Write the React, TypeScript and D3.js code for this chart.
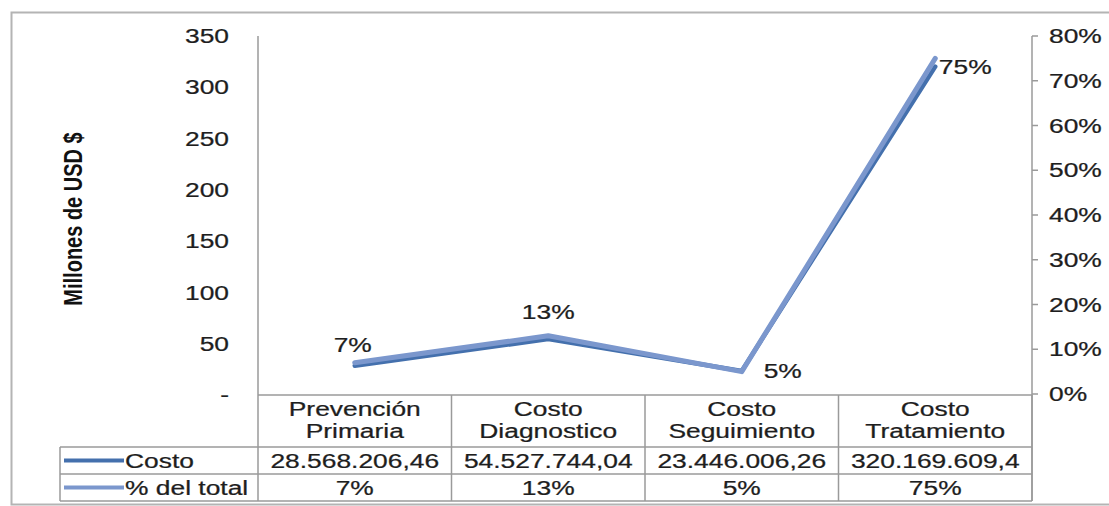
import React from "react";
import * as d3 from "d3";

const categories: string[][] = [
  ["Prevención", "Primaria"],
  ["Costo", "Diagnostico"],
  ["Costo", "Seguimiento"],
  ["Costo", "Tratamiento"],
];
const costo: number[] = [28568206.46, 54527744.04, 23446006.26, 320169609.4];
const pctTotal: number[] = [7, 13, 5, 75];
const leftTicks: number[] = [0, 50, 100, 150, 200, 250, 300, 350];
const rightTicks: number[] = [0, 10, 20, 30, 40, 50, 60, 70, 80];
const seriesNames: string[] = ["Costo", "% del total"];

const W = 1109;
const H = 506;
const FONT = "Liberation Sans, Arial, sans-serif";
const DARK = "#4470ad";
const LIGHT = "#7b97cd";
const GRID = "#9a9a9a";
const SX = 1.32;
const FS = 20;
const TXT = "#1e1e1e";

function fmtEs(v: number): string {
  const [i, d] = String(v).split(".");
  const int = i.replace(/\B(?=(\d{3})+(?!\d))/g, ".");
  return d ? `${int},${d}` : int;
}

function T({
  x,
  y,
  anchor = "start",
  children,
  dy = "0.36em",
}: {
  x: number;
  y: number;
  anchor?: string;
  children: React.ReactNode;
  dy?: string;
}) {
  return (
    <text
      transform={`translate(${x},${y}) scale(${SX},1)`}
      dy={dy}
      textAnchor={anchor}
      fontSize={FS}
      fill={TXT}
      stroke={TXT}
      strokeWidth={0.25}
    >
      {children}
    </text>
  );
}

export default function App() {
  const keys = categories.map((c) => c.join(" "));
  const x = d3.scaleBand<string>().domain(keys).range([258, 1032]).padding(0);
  const yL = d3.scaleLinear().domain([0, 350]).range([395, 36]);
  const yR = d3.scaleLinear().domain([0, 80]).range([394, 36]);
  const cx = (i: number) => (x(keys[i]) as number) + x.bandwidth() / 2;

  const lineCosto = d3
    .line<number>()
    .x((_, i) => cx(i))
    .y((v) => yL(v / 1e6));
  const linePct = d3
    .line<number>()
    .x((_, i) => cx(i))
    .y((v) => yR(v));

  const rowTop = 395;
  const row1 = 447;
  const row2 = 474;
  const row3 = 501;
  const tableLeft = 60;

  const labelOffsets: [number, number][] = [
    [-2, -18],
    [0, -24],
    [41, -1],
    [30, 8],
  ];

  return (
    <svg
      width={W}
      height={H}
      style={{ position: "absolute", left: 0, top: 0, background: "#fff" }}
      fontFamily={FONT}
    >
      {/* outer frame */}
      <rect x={11.5} y={12.5} width={1120} height={492} fill="none" stroke="#b4b4b4" strokeWidth={2} />

      {/* left axis */}
      <line x1={258} x2={258} y1={36} y2={row3} stroke={GRID} strokeWidth={1.5} />
      {leftTicks.map((t) => (
        <T key={t} x={229} y={yL(t)} anchor="end">
          {t === 0 ? "-" : t}
        </T>
      ))}
      <text
        transform={`translate(72,${219}) scale(${SX},1) rotate(-90)`}
        textAnchor="middle"
        dy="0.36em"
        fontSize={20}
        fontWeight="bold"
        fill="#111"
      >
        Millones de USD $
      </text>

      {/* right axis */}
      <line x1={1032} x2={1032} y1={36} y2={row3} stroke={GRID} strokeWidth={1.5} />
      {rightTicks.map((t) => (
        <g key={t}>
          <line x1={1032} x2={1038} y1={yR(t)} y2={yR(t)} stroke={GRID} strokeWidth={1.5} />
          <T x={1049} y={yR(t)}>
            {t}%
          </T>
        </g>
      ))}

      {/* category axis / table */}
      <line x1={258} x2={1032} y1={rowTop} y2={rowTop} stroke={GRID} strokeWidth={1.5} />
      {[row1, row2, row3].map((yy) => (
        <line key={yy} x1={tableLeft} x2={1032} y1={yy} y2={yy} stroke={GRID} strokeWidth={1.5} />
      ))}
      <line x1={tableLeft} x2={tableLeft} y1={row1} y2={row3} stroke={GRID} strokeWidth={1.5} />
      {keys.map((k) => (
        <line
          key={k}
          x1={(x(k) as number) + x.bandwidth()}
          x2={(x(k) as number) + x.bandwidth()}
          y1={rowTop}
          y2={row3}
          stroke={GRID}
          strokeWidth={1.5}
        />
      ))}
      {categories.map((c, i) => (
        <g key={i}>
          <T x={cx(i)} y={409} anchor="middle">
            {c[0]}
          </T>
          <T x={cx(i)} y={431} anchor="middle">
            {c[1]}
          </T>
        </g>
      ))}
      {costo.map((v, i) => (
        <T key={i} x={cx(i)} y={(row1 + row2) / 2} anchor="middle">
          {fmtEs(v)}
        </T>
      ))}
      {pctTotal.map((v, i) => (
        <T key={i} x={cx(i)} y={(row2 + row3) / 2} anchor="middle">
          {v}%
        </T>
      ))}
      {/* legend keys */}
      {seriesNames.map((s, i) => {
        const yy = i === 0 ? (row1 + row2) / 2 : (row2 + row3) / 2;
        return (
          <g key={s}>
            <line x1={64} x2={124} y1={yy} y2={yy} stroke={i === 0 ? DARK : LIGHT} strokeWidth={4} />
            <T x={125} y={yy}>
              {s}
            </T>
          </g>
        );
      })}

      {/* series lines */}
      <path
        d={lineCosto(costo) ?? ""}
        fill="none"
        stroke={DARK}
        strokeWidth={4.5}
        strokeLinejoin="round"
        strokeLinecap="round"
      />
      <path
        d={linePct(pctTotal) ?? ""}
        fill="none"
        stroke={LIGHT}
        strokeWidth={5}
        strokeLinejoin="round"
        strokeLinecap="round"
      />

      {/* data labels */}
      {pctTotal.map((v, i) => (
        <T key={i} x={cx(i) + labelOffsets[i][0]} y={yR(v) + labelOffsets[i][1]} anchor="middle">
          {v}%
        </T>
      ))}
    </svg>
  );
}
